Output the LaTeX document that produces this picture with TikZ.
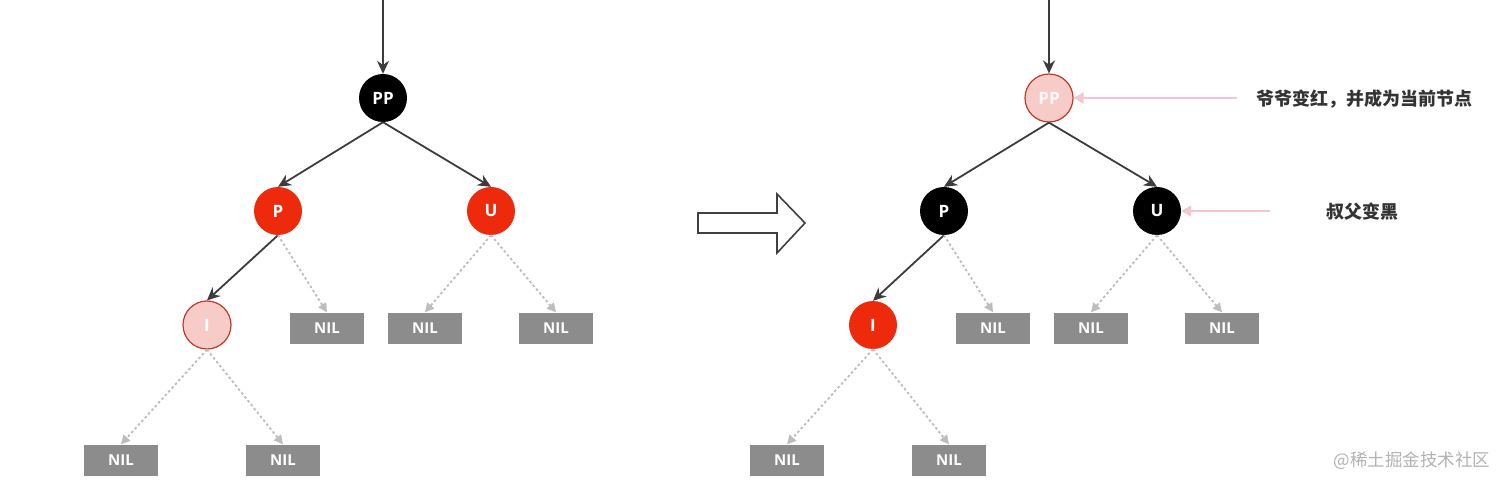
\documentclass[tikz,border=0pt]{standalone}
\usepackage{fontspec}
\setmainfont{Open Sans}
\newfontfamily\cjk{Noto Sans CJK SC}
\usetikzlibrary{positioning,arrows.meta}

\definecolor{rbred}{HTML}{EE2A0C}
\definecolor{rbpink}{HTML}{F7CCC8}
\definecolor{rbedge}{HTML}{C0392B}
\definecolor{nilgray}{HTML}{8C8C8C}
\definecolor{linegray}{HTML}{3C3C3C}
\definecolor{dotgray}{HTML}{BDBDBD}
\definecolor{notepink}{HTML}{F5C7CC}

\tikzset{
	rbnode/.style={circle, minimum size=48pt, inner sep=0pt, text=white,
		font=\fontsize{17}{17}\selectfont\bfseries},
	blacknode/.style={rbnode, fill=black},
	rednode/.style={rbnode, fill=rbred},
	newnode/.style={rbnode, fill=rbpink, draw=rbedge, line width=1.2pt},
	nilnode/.style={rectangle, fill=nilgray, minimum width=74pt, minimum height=31pt,
		inner sep=0pt, text=white, font=\fontsize{15}{15}\selectfont\bfseries},
	edge/.style={draw=linegray, line width=1.8pt, -{Stealth[length=13pt,width=12pt]}},
	niledge/.style={draw=dotgray, line width=1.8pt, dash pattern=on 2.5pt off 2.5pt,
		-{Triangle[length=9pt,width=9pt]}},
	note/.style={draw=notepink, line width=1.8pt, -{Triangle[length=10pt,width=11pt]}},
	notetext/.style={text=black!80, font=\cjk\fontsize{18}{18}\selectfont\bfseries, anchor=west}
}

\begin{document}
\begin{tikzpicture}[x=1pt, y=-1pt, node distance=2.5cm, on grid]
	\useasboundingbox (0,0) rectangle (1512,486);
	% left tree
	\coordinate (lIn) at (383,0);
	\node (lPP) [blacknode] at (383,98) {PP};
	\node (lP) [rednode, below left=113pt and 105pt of lPP] {P};
	\node (lU) [rednode, below right=113pt and 108pt of lPP] {U};
	\node (lI) [newnode, below left=114pt and 71pt of lP] {I};
	\node (lPn) [nilnode, below right=117pt and 49pt of lP] {NIL};
	\node (lUl) [nilnode, below left=117pt and 66pt of lU] {NIL};
	\node (lUr) [nilnode, below right=117pt and 65pt of lU] {NIL};
	\node (lIl) [nilnode, below left=135pt and 86pt of lI] {NIL};
	\node (lIr) [nilnode, below right=135pt and 76pt of lI] {NIL};
	\draw[edge] (lIn) to (lPP.north);
	\draw[edge] (lPP.south) to (lP.north);
	\draw[edge] (lPP.south) to (lU.north);
	\draw[edge] (lP.south) to (lI.north);
	\draw[niledge] (lP.south) to (lPn.north);
	\draw[niledge] (lU.south) to (lUl.north);
	\draw[niledge] (lU.south) to (lUr.north);
	\draw[niledge] (lI.south) to (lIl.north);
	\draw[niledge] (lI.south) to (lIr.north);

	% big arrow between the trees
	\draw[draw=black!75, line width=1.6pt, line join=miter, fill=white]
		(698,213) -- (777,213) -- (777,194) -- (805,223) -- (777,253)
		-- (777,233) -- (698,233) -- cycle;

	% right tree
	\coordinate (rIn) at (1049,0);
	\node (rPP) [newnode, text=white!85!rbpink] at (1049,98) {PP};
	\node (rP) [blacknode, below left=113pt and 105pt of rPP] {P};
	\node (rU) [blacknode, below right=113pt and 108pt of rPP] {U};
	\node (rI) [rednode, below left=114pt and 71pt of rP] {I};
	\node (rPn) [nilnode, below right=117pt and 49pt of rP] {NIL};
	\node (rUl) [nilnode, below left=117pt and 66pt of rU] {NIL};
	\node (rUr) [nilnode, below right=117pt and 65pt of rU] {NIL};
	\node (rIl) [nilnode, below left=135pt and 86pt of rI] {NIL};
	\node (rIr) [nilnode, below right=135pt and 76pt of rI] {NIL};
	\draw[edge] (rIn) to (rPP.north);
	\draw[edge] (rPP.south) to (rP.north);
	\draw[edge] (rPP.south) to (rU.north);
	\draw[edge] (rP.south) to (rI.north);
	\draw[niledge] (rP.south) to (rPn.north);
	\draw[niledge] (rU.south) to (rUl.north);
	\draw[niledge] (rU.south) to (rUr.north);
	\draw[niledge] (rI.south) to (rIl.north);
	\draw[niledge] (rI.south) to (rIr.north);

	% notes
	\node (ppNote) [notetext] at (1253,99) {爷爷变红，并成为当前节点};
	\node (uNote) [notetext] at (1323,212) {叔父变黑};
	\coordinate (ppFrom) at (1237,98);
	\coordinate (uFrom) at (1270,211);
	\draw[note] (ppFrom) to (rPP.east);
	\draw[note] (uFrom) to (rU.east);

	\node (mark) [text=black!30, font=\cjk\fontsize{17.5}{17.5}\selectfont, anchor=west]
		at (1330,461) {@稀土掘金技术社区};
\end{tikzpicture}
\end{document}
